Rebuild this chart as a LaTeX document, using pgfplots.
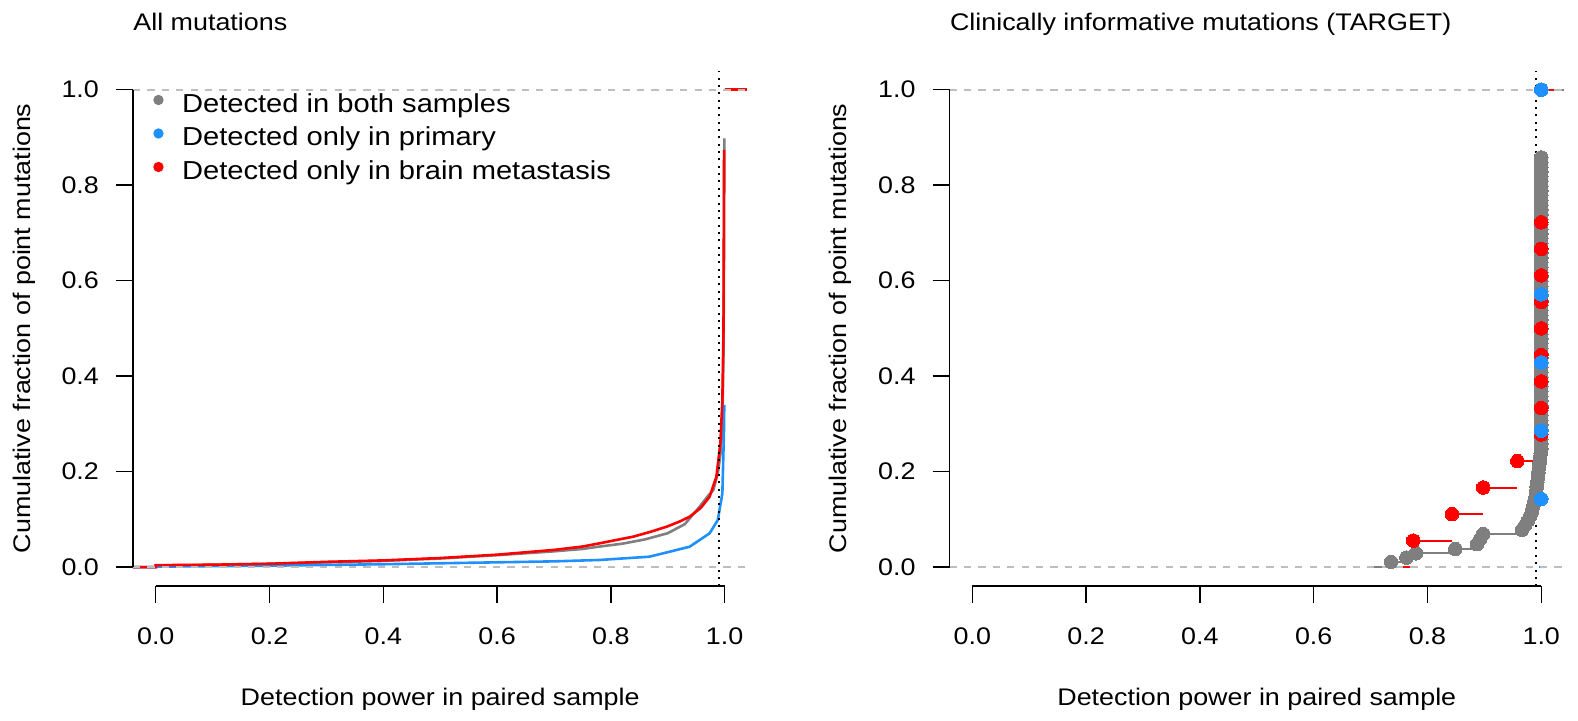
\documentclass[border=0pt]{standalone}
\usepackage{fontspec}
\setmainfont{Liberation Sans}[FakeStretch=1.12]
\usepackage{pgfplots}
\pgfplotsset{compat=1.18}
\definecolor{pgray}{HTML}{7F7F7F}
\definecolor{dblue}{HTML}{1E90FF}
\definecolor{lgray}{HTML}{BEBEBE}
\pgfplotsset{
  myaxis/.style={
    scale only axis, width=307.2pt, height=257.8pt, anchor=south west,
    xmin=-0.04, xmax=1.04, ymin=-0.04, ymax=1.04, clip=false,
    axis x line*=bottom, axis y line*=left,
    axis line style={draw=none},
    tick align=outside, major tick length=8.5pt,
    every tick/.style={black, line width=0.7pt},
    xtick={0,0.2,0.4,0.6,0.8,1}, ytick={0,0.2,0.4,0.6,0.8,1},
    xticklabels={0.0,0.2,0.4,0.6,0.8,1.0},
    yticklabels={0.0,0.2,0.4,0.6,0.8,1.0},
    x tick label style={anchor=north, inner sep=0pt, yshift=-11.9pt},
    y tick label style={anchor=east, inner sep=0pt, xshift=-8.35pt},
    every axis title/.style={at={(axis description cs:0,1.0774)}, anchor=base west, inner sep=0pt},
    xlabel={Detection power in paired sample},
    xlabel style={at={(axis description cs:0.5,-0.2323)}, anchor=base, inner sep=0pt},
    ylabel={Cumulative fraction of point mutations},
    ylabel style={at={(axis description cs:-0.1675,0.5)}, anchor=base, inner sep=0pt},
  },
  abl/.style={forget plot, lgray, line width=0.85pt, dash pattern=on 3.6pt off 3.6pt},
  dotl/.style={forget plot, black, line width=1pt, dash pattern=on 1pt off 2.67pt},
  dots/.style={forget plot, only marks, mark=*, mark size=3.4pt, color=#1,
    mark options={draw=#1, fill=#1, line width=0pt}},
}
\begin{document}
\fontsize{12}{14}\selectfont
\begin{tikzpicture}[font=\fontsize{12}{14}\selectfont]
\path[use as bounding box] (0,0) rectangle (789pt,360.5pt);
% ---------------- left panel ----------------
\begin{axis}[myaxis, at={(66.5pt,67.4pt)}, title={All mutations},
  legend style={at={(axis description cs:0.033,0.9552)}, anchor=north west,
    draw=none, fill=none, inner sep=0pt, outer sep=0pt, row sep=4.75pt, column sep=0pt,
    font=\fontsize{13}{15}\selectfont,
    nodes={inner sep=0pt, text height=9.3pt, text depth=2.7pt}},
  legend cell align=left,
  legend image code/.code={\path[draw=none, fill=none] (0pt,0pt) rectangle (14.4pt,0.1pt); \fill[#1, draw=none] (2.6pt,2.85pt) circle (2.6pt);},
]
\addplot[color=pgray, line width=1.3pt, mark=none] coordinates {
(-0.04,0) (0.0,0) (0.0,0.003) (0.1,0.005) (0.2,0.007) (0.3,0.010) (0.4,0.013) (0.5,0.018)
(0.6,0.025) (0.65,0.029) (0.7,0.033) (0.75,0.038) (0.78,0.043) (0.82,0.049) (0.86,0.058)
(0.9,0.071) (0.93,0.090) (0.956,0.1265) (0.97,0.148) (0.98,0.1615) (0.988,0.196)
(0.993,0.24) (0.996,0.30) (0.998,0.45) (0.999,0.70) (0.9995,0.898)};
\addplot[color=dblue, line width=1.3pt, mark=none] coordinates {
(-0.04,0) (0.0,0) (0.0,0.001) (0.2,0.003) (0.4,0.006) (0.5,0.008) (0.6,0.010) (0.7,0.012)
(0.78,0.0149) (0.868,0.0218) (0.9385,0.0427) (0.9736,0.0708) (0.988,0.0987) (0.996,0.1546)
(0.999,0.294) (0.9993,0.34)};
\addplot[color=red, line width=1.3pt, mark=none] coordinates {
(-0.04,0) (0.0,0) (0.0,0.004) (0.1,0.005) (0.2,0.007) (0.3,0.011) (0.4,0.014) (0.5,0.019)
(0.6,0.026) (0.65,0.031) (0.7,0.036) (0.75,0.043) (0.78,0.0498) (0.839,0.0637) (0.87,0.074)
(0.898,0.0846) (0.92,0.095) (0.9385,0.1056) (0.958,0.124) (0.9736,0.1475) (0.9854,0.189)
(0.9925,0.259) (0.996,0.35) (0.998,0.5) (0.999,0.874)};
\legend{Detected in both samples, Detected only in primary, Detected only in brain metastasis}
\addplot[forget plot, color=pgray, line width=1.3pt] coordinates {(1.0,1.0) (1.04,1.0)};
\addplot[forget plot, color=red, line width=1.3pt] coordinates {(1.0,1.0) (1.04,1.0)};
\addplot[abl] coordinates {(-0.04,0) (1.04,0)};
\addplot[abl] coordinates {(-0.04,1) (1.04,1)};
\addplot[dotl] coordinates {(0.99,-0.04) (0.99,1.04)};
\draw[line width=0.7pt] (axis cs:-0.04,0) -- (axis cs:-0.04,1);
\draw[line width=0.7pt] (axis cs:0,-0.04) -- (axis cs:1,-0.04);
\end{axis}
% ---------------- right panel ----------------
\begin{axis}[myaxis, at={(474.8pt,67.4pt)}, title={Clinically informative mutations (TARGET)}]
% gray
\addplot[forget plot, color=pgray, line width=1pt] coordinates {(0.694,0) (0.736,0)};
\addplot[forget plot, color=pgray, line width=1pt, mark=none, jump mark left] coordinates {
(0.736,0.011) (0.763,0.020) (0.780,0.029) (0.849,0.038) (0.887,0.048) (0.893,0.059) (0.898,0.069)
(0.966,0.078) (0.972,0.088) (0.977,0.098) (0.981,0.108) (0.984,0.118) (0.986,0.128) (0.988,0.138)
(0.990,0.148) (0.991,0.158) (0.992,0.168) (0.993,0.178) (0.994,0.188) (0.995,0.198) (0.996,0.208)
(0.997,0.218) (0.998,0.228) (0.999,0.238) (1.0,0.248) (1.0,0.853) (1.0,1.0) (1.04,1.0)};
\addplot[dots=pgray] coordinates {
(0.736,0.011) (0.763,0.020) (0.780,0.029) (0.849,0.038) (0.887,0.048) (0.893,0.059) (0.898,0.069)
(0.966,0.078) (0.972,0.088) (0.977,0.098) (0.981,0.108) (0.984,0.118) (0.986,0.128) (0.988,0.138)
(0.990,0.148) (0.991,0.158) (0.992,0.168) (0.993,0.178) (0.994,0.188) (0.995,0.198) (0.996,0.208)
(0.997,0.218) (0.998,0.228) (0.999,0.238) (1.0,0.248) (1.0,0.258) (1.0,0.268) (1.0,0.278)
(1.0,0.288) (1.0,0.298) (1.0,0.308) (1.0,0.318) (1.0,0.328) (1.0,0.338) (1.0,0.348) (1.0,0.358)
(1.0,0.368) (1.0,0.378) (1.0,0.388) (1.0,0.398) (1.0,0.408) (1.0,0.418) (1.0,0.428) (1.0,0.438)
(1.0,0.448) (1.0,0.458) (1.0,0.468) (1.0,0.478) (1.0,0.488) (1.0,0.498) (1.0,0.508) (1.0,0.518)
(1.0,0.528) (1.0,0.538) (1.0,0.548) (1.0,0.558) (1.0,0.568) (1.0,0.578) (1.0,0.588) (1.0,0.598)
(1.0,0.608) (1.0,0.618) (1.0,0.628) (1.0,0.638) (1.0,0.648) (1.0,0.658) (1.0,0.668) (1.0,0.678)
(1.0,0.688) (1.0,0.698) (1.0,0.708) (1.0,0.718) (1.0,0.728) (1.0,0.738) (1.0,0.748) (1.0,0.758)
(1.0,0.768) (1.0,0.778) (1.0,0.788) (1.0,0.798) (1.0,0.808) (1.0,0.818) (1.0,0.828) (1.0,0.838)
(1.0,0.848) (1.0,0.858) (1.0,1.0)};
% red
\addplot[forget plot, color=red, line width=1pt] coordinates {(0.736,0) (0.775,0)};
\addplot[forget plot, color=red, line width=1pt, mark=none, jump mark left] coordinates {
(0.775,0.0556) (0.843,0.1111) (0.898,0.1667) (0.958,0.2222) (1.0,0.2778) (1.0,0.7222) (1.0,1.0) (1.037,1.0)};
\addplot[dots=red] coordinates {
(0.775,0.0556) (0.843,0.1111) (0.898,0.1667) (0.958,0.2222) (1.0,0.2778) (1.0,0.3333) (1.0,0.3889)
(1.0,0.4444) (1.0,0.5) (1.0,0.5556) (1.0,0.6111) (1.0,0.6667) (1.0,0.7222) (1.0,1.0)};
% blue
\addplot[forget plot, color=dblue, line width=1pt] coordinates {(0.996,0) (1.0,0)};
\addplot[dots=dblue] coordinates {
(1.0,0.1429) (1.0,0.2857) (1.0,0.4286) (1.0,0.5714) (1.0,1.0)};
\addplot[abl] coordinates {(-0.04,0) (1.04,0)};
\addplot[abl] coordinates {(-0.04,1) (1.04,1)};
\addplot[dotl] coordinates {(0.99,-0.04) (0.99,1.04)};
\draw[line width=0.7pt] (axis cs:-0.04,0) -- (axis cs:-0.04,1);
\draw[line width=0.7pt] (axis cs:0,-0.04) -- (axis cs:1,-0.04);
\end{axis}
\end{tikzpicture}
\end{document}
